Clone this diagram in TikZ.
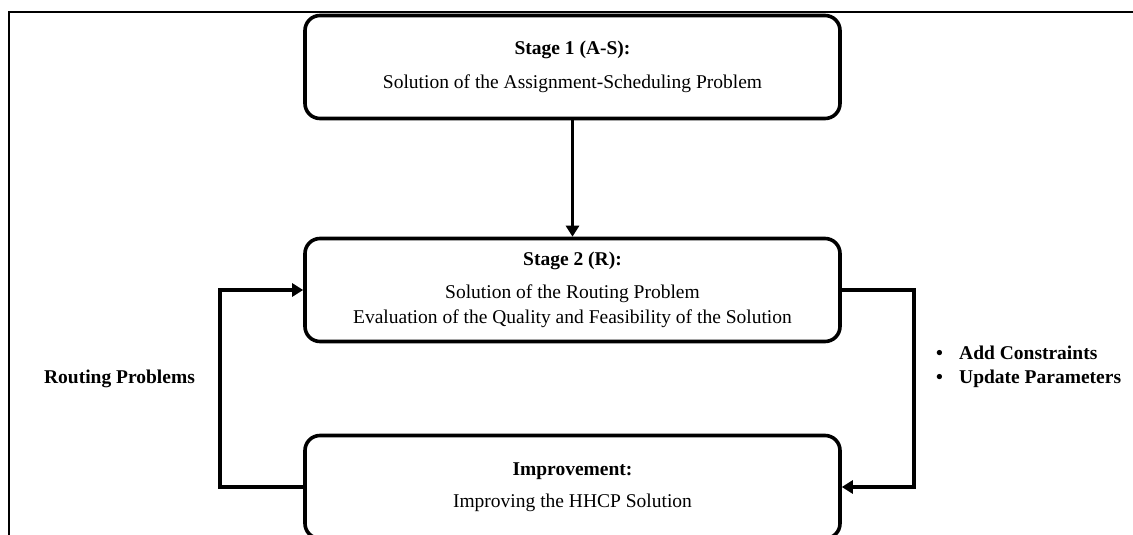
\documentclass[tikz,border=0pt]{standalone}
\usepackage{fontspec}
\setmainfont{Liberation Serif}
\usetikzlibrary{arrows.meta}
\tikzset{
  stagebox/.style={draw=black, line width=3.6pt, rounded corners=15pt, minimum width=535pt, minimum height=103pt, inner sep=0pt, align=center, font=\fontsize{19.5}{25}\selectfont},
  arr/.style={line width=3.6pt, -{Triangle[length=11pt,width=13pt]}},
  lbl/.style={inner sep=0pt, font=\fontsize{19.5}{24}\selectfont\bfseries},
  frameline/.style={line width=1.4pt}
}
\begin{document}
\begin{tikzpicture}[x=1pt,y=-1pt]
\useasboundingbox (0,0) rectangle (1133,535);
\clip (0,0) rectangle (1133,535);
\draw[frameline] (9,536) -- (9,12) -- (1134,12);
\node[stagebox] (b1) at (572.5,67) {\textbf{Stage 1 (A-S):}\\[9pt]Solution of the Assignment-Scheduling Problem};
\node[stagebox] (b2) at (572.5,290) {\textbf{Stage 2 (R):}\\[8pt]Solution of the Routing Problem\\Evaluation of the Quality and Feasibility of the Solution};
\node[stagebox] (b3) at (572.5,487) {\textbf{Improvement:}\\[7pt]Improving the HHCP Solution};
\draw[arr] (b1.south) -- (b2.north);
\draw[arr] (b3.west) -- ++(-83,0) |- (b2.west);
\draw[arr] (b2.east) -- ++(72,0) |- (b3.east);
\node[lbl, anchor=base] (rp) at (119.5,383) {Routing Problems};
\node[lbl, anchor=base west, align=left] (ac) at (936,383) {\makebox[23pt][l]{•}Add Constraints\\\makebox[23pt][l]{•}Update Parameters};
\end{tikzpicture}
\end{document}
